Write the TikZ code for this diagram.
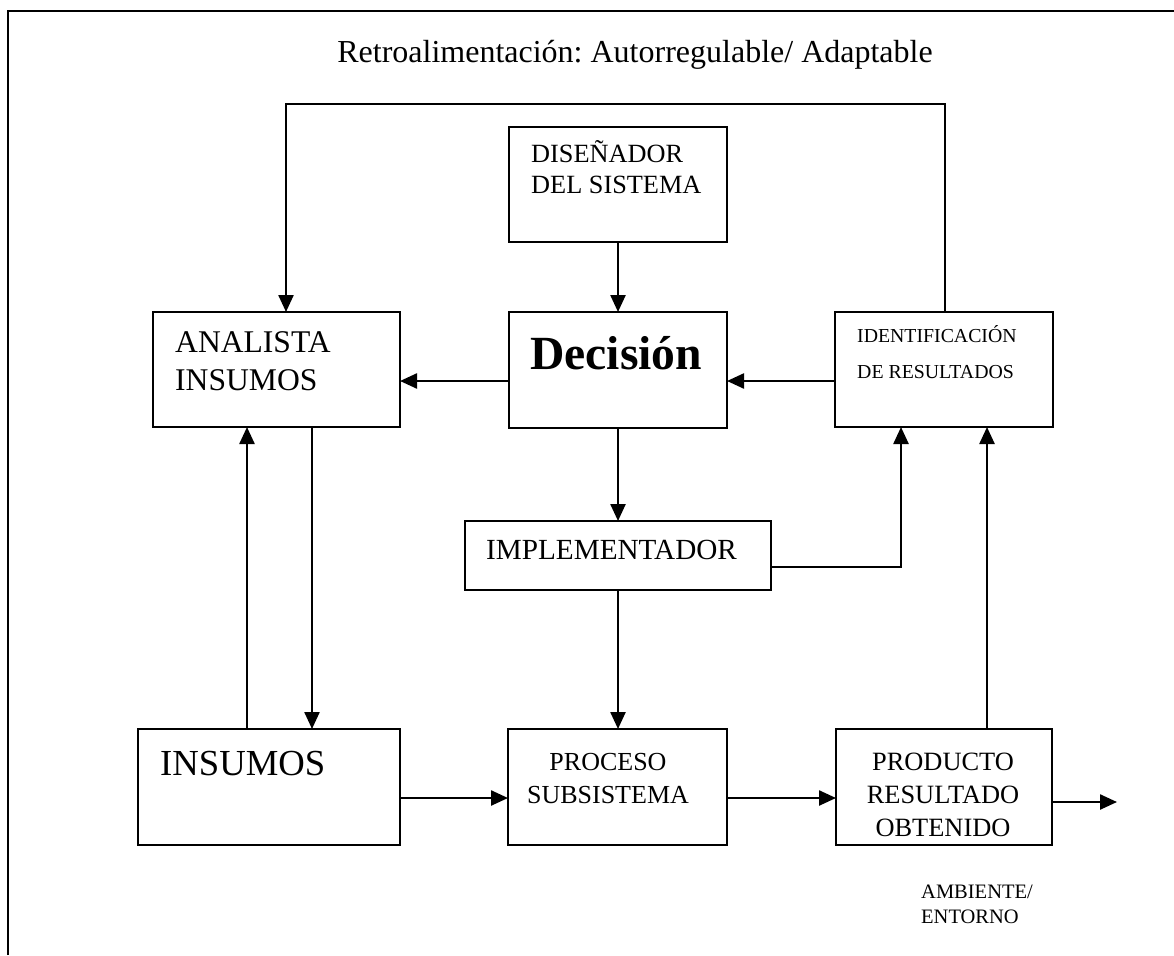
\documentclass[tikz,border=0pt]{standalone}
\usepackage{fontspec}
\setmainfont{Liberation Serif}
\usetikzlibrary{arrows.meta}
\frenchspacing
\begin{document}
\begin{tikzpicture}[x=1pt,y=-1pt,
  box/.style={draw,line width=2.4pt,inner sep=0pt,outer sep=0pt,anchor=north west},
  arr/.style={line width=2.4pt,-{Triangle[length=17pt,width=15pt]}},
  plain/.style={line width=2.4pt},
  lbl/.style={inner sep=0pt,anchor=base west,align=left},
  clbl/.style={inner sep=0pt,anchor=base,align=center}]
\useasboundingbox[fill=white] (0,0) rectangle (1174,955);
% outer frame
\coordinate (frBL) at (8,955);
\coordinate (frTL) at (8,11);
\coordinate (frTR) at (1174,11);
\draw[plain] (frBL) -- (frTL) -- (frTR);
% boxes
\node[box,minimum width=218pt,minimum height=115pt] (dis) at (509,127) {};
\node[box,minimum width=218pt,minimum height=116pt] (dec) at (509,312) {};
\node[box,minimum width=247pt,minimum height=115pt] (ana) at (153,312) {};
\node[box,minimum width=218pt,minimum height=115pt] (ident) at (835,312) {};
\node[box,minimum width=306pt,minimum height=69pt] (impl) at (465,521) {};
\node[box,minimum width=262pt,minimum height=116pt] (ins) at (138,729) {};
\node[box,minimum width=219pt,minimum height=116pt] (proc) at (508,729) {};
\node[box,minimum width=216pt,minimum height=116pt] (prod) at (836,729) {};
% texts (multi-line nodes are anchored at the baseline of their last line)
\node[clbl,font=\fontsize{32pt}{38pt}\selectfont] (title) at (635,63) {Retroalimentación: Autorregulable/ Adaptable};
\node[lbl,font=\fontsize{26.3pt}{31pt}\selectfont] (disT) at (531,193) {DISEÑADOR\\DEL SISTEMA};
\node[lbl,font=\fontsize{47.6pt}{56pt}\selectfont\bfseries] (decT) at (530,369) {Decisión};
\node[lbl,font=\fontsize{31.6pt}{38pt}\selectfont] (anaT) at (175,390) {ANALISTA\\INSUMOS};
\node[lbl,font=\fontsize{19.8pt}{36pt}\selectfont] (identT) at (857,378) {IDENTIFICACIÓN\\DE RESULTADOS};
\node[lbl,font=\fontsize{29.2pt}{35pt}\selectfont] (implT) at (486,559) {IMPLEMENTADOR};
\node[lbl,font=\fontsize{36.7pt}{44pt}\selectfont] (insT) at (160,775) {INSUMOS};
\node[clbl,font=\fontsize{26pt}{33pt}\selectfont] (procT) at (608,803) {PROCESO\\SUBSISTEMA};
\node[clbl,font=\fontsize{26.4pt}{33pt}\selectfont] (prodT) at (943,836) {PRODUCTO\\RESULTADO\\OBTENIDO};
\node[lbl,font=\fontsize{20.5pt}{25pt}\selectfont] (ambT) at (921,923) {AMBIENTE/\\ENTORNO};
% helper coordinates
\coordinate (fbR) at (945,104);
\coordinate (fbL) at (286,104);
\coordinate (yMid) at (0,381);
\coordinate (xUp) at (247,0);
\coordinate (xDown) at (312,0);
\coordinate (xImpl) at (901,567);
\coordinate (xProdUp) at (987,0);
\coordinate (yBot) at (0,798);
\coordinate (out) at (1117,802);
% connectors
\draw[arr] (ident.north -| fbR) -- (fbR) -- (fbL) -- (ana.north -| fbL);
\draw[arr] (dis.south) -- (dec.north);
\draw[arr] (dec.west |- yMid) -- (ana.east |- yMid);
\draw[arr] (ident.west |- yMid) -- (dec.east |- yMid);
\draw[arr] (dec.south) -- (impl.north);
\draw[arr] (impl.east |- xImpl) -- (xImpl) -- (ident.south -| xImpl);
\draw[arr] (impl.south) -- (proc.north -| impl.south);
\draw[arr] (ana.south -| xDown) -- (ins.north -| xDown);
\draw[arr] (ins.north -| xUp) -- (ana.south -| xUp);
\draw[arr] (ins.east |- yBot) -- (proc.west |- yBot);
\draw[arr] (proc.east |- yBot) -- (prod.west |- yBot);
\draw[arr] (prod.north -| xProdUp) -- (ident.south -| xProdUp);
\draw[arr] (prod.east |- out) -- (out);
\end{tikzpicture}
\end{document}
